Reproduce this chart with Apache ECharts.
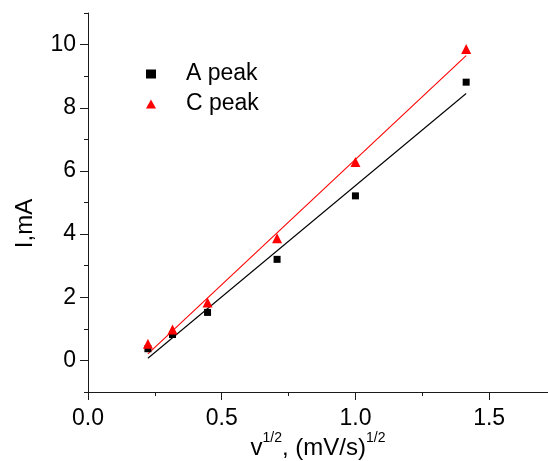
<!DOCTYPE html>
<html><head><meta charset="utf-8">
<script src="https://cdn.jsdelivr.net/npm/echarts@6/dist/echarts.min.js"></script>
<style>html,body{margin:0;padding:0;background:#fff}#c{width:548px;height:461px}</style>
</head><body><div id="c"></div>
<script>
// Data
const sqrtScanRate = [0.224, 0.316, 0.447, 0.707, 1.0, 1.414];
const aPeak = [0.37, 0.82, 1.52, 3.20, 5.21, 8.81];
const cPeak = [0.53, 0.98, 1.83, 3.87, 6.28, 9.86];
const aFitX = [0.224, 1.414];
const aFitY = [0.07, 8.45];
const cFitX = [0.224, 1.414];
const cFitY = [0.21, 9.65];
const xMajorTicks = [0, 0.5, 1.0, 1.5];
const xMinorTicks = [0.25, 0.75, 1.25];
const yMajorTicks = [0, 2, 4, 6, 8, 10];
const yMinorTicks = [-1, 1, 3, 5, 7, 9, 11];
const seriesNames = ['A peak', 'C peak'];

const FF = '"Liberation Sans", Arial, sans-serif';
const zip = (xs, ys) => xs.map((x, i) => [x, ys[i]]);

const chart = echarts.init(document.getElementById('c'), null, {renderer: 'canvas'});
const axisColor = '#1a1a1a';
chart.setOption({
  animation: false,
  backgroundColor: '#fff',
  grid: {left: 88, right: 0, top: 13, bottom: 69, containLabel: false, outerBoundsMode: 'none'},
  legend: {
    orient: 'vertical', left: 141, top: 57,
    itemWidth: 10, itemHeight: 9, itemGap: 6,
    symbolKeepAspect: true,
    data: seriesNames,
    textStyle: {fontFamily: FF, fontSize: 23, color: '#000', lineHeight: 24, padding: [0, 0, 0, 25]}
  },
  xAxis: [{
    type: 'value', min: 0, max: 1.72, position: 'bottom',
    axisLine: {show: true, onZero: false, lineStyle: {color: axisColor, width: 1}},
    axisTick: {show: true, customValues: xMajorTicks, length: 8, lineStyle: {color: axisColor}},
    axisLabel: {customValues: xMajorTicks, formatter: v => Number(v).toFixed(1), fontFamily: FF, fontSize: 23, color: '#000', margin: 15},
    splitLine: {show: false},
    name: '{n|v}{s|1/2}{n|, (mV/s)}{s|1/2}',
    nameLocation: 'middle', nameGap: 39, nameMoveOverlap: false,
    nameTextStyle: {
      color: '#000', fontFamily: FF,
      rich: {
        n: {fontSize: 24, fontFamily: FF, color: '#000'},
        s: {fontSize: 14, fontFamily: FF, color: '#000', padding: [0, 0, 20, 0]}
      }
    }
  }, {
    type: 'value', min: 0, max: 1.72, position: 'bottom',
    axisLine: {show: false, onZero: false},
    axisTick: {show: true, customValues: xMinorTicks, length: 4, lineStyle: {color: axisColor}},
    axisLabel: {show: false},
    splitLine: {show: false}
  }],
  yAxis: [{
    type: 'value', min: -1, max: 11, interval: 1, position: 'left',
    axisLine: {show: true, onZero: false, lineStyle: {color: axisColor, width: 1}},
    axisTick: {show: true, customValues: yMajorTicks, length: 8, lineStyle: {color: axisColor}},
    axisLabel: {customValues: yMajorTicks, fontFamily: FF, fontSize: 23, color: '#000', margin: 12},
    splitLine: {show: false},
    name: 'I,mA', nameLocation: 'middle', nameGap: 51, nameMoveOverlap: false,
    nameTextStyle: {fontFamily: FF, fontSize: 24, color: '#000', padding: [0, 42, 0, 0]}
  }, {
    type: 'value', min: -1, max: 11, interval: 1, position: 'left',
    axisLine: {show: false, onZero: false},
    axisTick: {show: true, customValues: yMinorTicks, length: 4, lineStyle: {color: axisColor}},
    axisLabel: {show: false},
    splitLine: {show: false}
  }],
  series: [
    {
      name: 'A fit', type: 'line', data: zip(aFitX, aFitY), symbol: 'none',
      lineStyle: {color: '#000', width: 1.1}, silent: true, z: 1
    },
    {
      name: 'C fit', type: 'line', data: zip(cFitX, cFitY), symbol: 'none',
      lineStyle: {color: '#ff0000', width: 1.1}, silent: true, z: 1
    },
    {
      name: seriesNames[0], type: 'scatter', data: zip(sqrtScanRate, aPeak),
      symbol: 'rect', symbolSize: 7, itemStyle: {color: '#000', opacity: 1}, z: 3
    },
    {
      name: seriesNames[1], type: 'scatter', data: zip(sqrtScanRate, cPeak),
      symbol: 'triangle', symbolSize: 10, itemStyle: {color: '#ff0000', opacity: 1}, z: 3
    }
  ]
});
</script>
</body></html>
